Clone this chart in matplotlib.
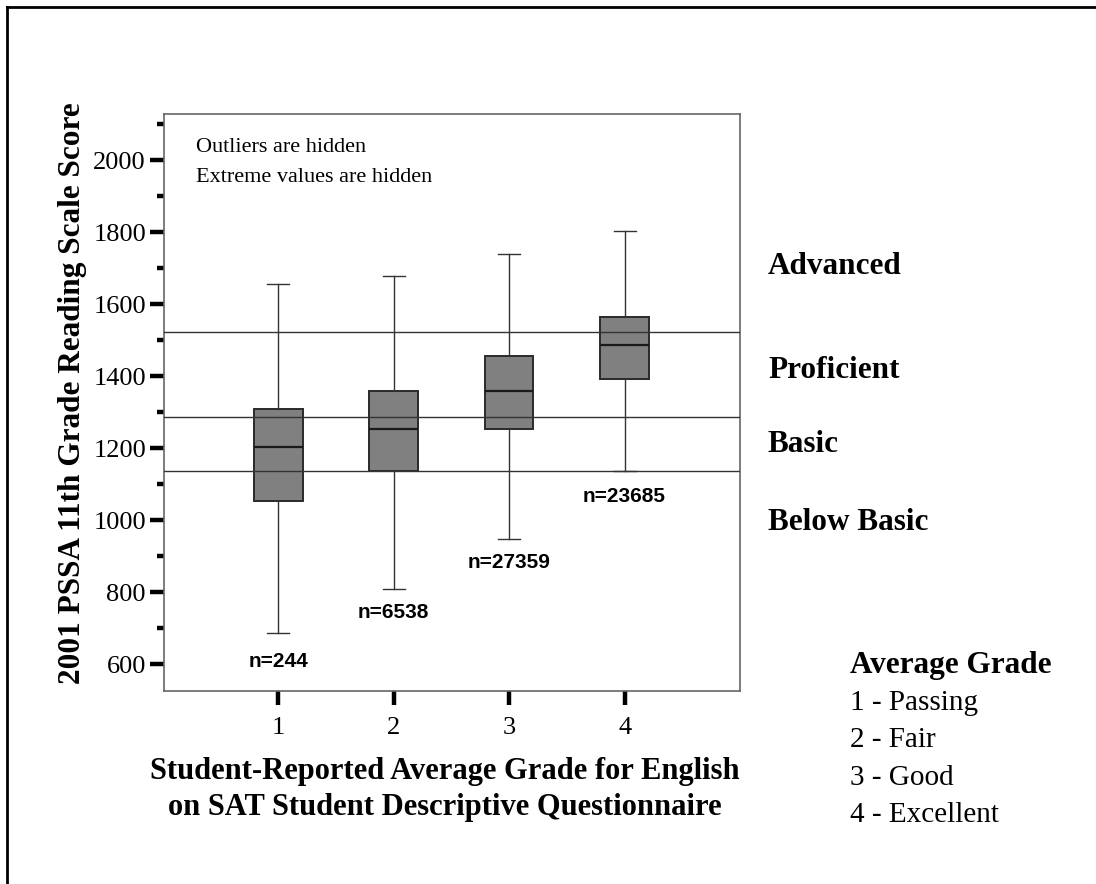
#!/usr/bin/env python3
# -*- coding: utf-8 -*-
"""PSSA 11th grade reading scale score by self-reported English grade (box plot)."""
import matplotlib
matplotlib.use("Agg")
import matplotlib.pyplot as plt
from matplotlib.lines import Line2D
from matplotlib.ticker import MultipleLocator

# ----- data -----
grades = [1, 2, 3, 4]
whisker_lo = [685, 807, 947, 1137]
q1 = [1054, 1137, 1253, 1392]
median = [1204, 1253, 1358, 1487]
q3 = [1309, 1358, 1455, 1565]
whisker_hi = [1655, 1677, 1738, 1804]
n_counts = [244, 6538, 27359, 23685]
n_label_y = [608, 742, 883, 1064]

# performance level cut scores
cut_scores = [1137, 1287, 1521]
level_names = ["Advanced", "Proficient", "Basic", "Below Basic"]
legend_items = ["1 - Passing", "2 - Fair", "3 - Good", "4 - Excellent"]

SERIF = ["Liberation Serif", "DejaVu Serif"]
SANS = ["Liberation Sans", "DejaVu Sans"]

plt.rcParams["font.family"] = SERIF

W, H = 1096, 884
fig = plt.figure(figsize=(W / 100, H / 100), dpi=100)
ax = fig.add_axes([164 / W, 1 - 691 / H, (740 - 164) / W, (691 - 114) / H])

stats = []
for i in range(len(grades)):
    stats.append({
        "whislo": whisker_lo[i], "q1": q1[i], "med": median[i],
        "q3": q3[i], "whishi": whisker_hi[i], "fliers": [],
    })

ax.bxp(stats, positions=grades, widths=0.42, capwidths=0.19,
       showfliers=False, patch_artist=True,
       boxprops=dict(facecolor="#808080", edgecolor="#2a2a2a", linewidth=1.4),
       medianprops=dict(color="#1a1a1a", linewidth=1.6),
       whiskerprops=dict(color="#333333", linewidth=1.0),
       capprops=dict(color="#333333", linewidth=1.0))

for c in cut_scores:
    ax.axhline(c, color="#333333", linewidth=1.0, zorder=5)

for g, n, y in zip(grades, n_counts, n_label_y):
    ax.text(g, y, "n=%d" % n, ha="center", va="center", fontsize=15,
            fontweight="bold", family=SANS)

ax.text(196 / W, 1 - 148 / H, "Outliers are hidden", transform=fig.transFigure,
        ha="left", va="center", fontsize=16)
ax.text(196 / W, 1 - 177 / H, "Extreme values are hidden", transform=fig.transFigure,
        ha="left", va="center", fontsize=16)

ax.set_xlim(0.01, 5.0)
ax.set_ylim(525, 2128)
ax.set_xticks(grades)
ax.yaxis.set_major_locator(MultipleLocator(200))
ax.yaxis.set_minor_locator(MultipleLocator(100))
ax.set_yticks(range(600, 2001, 200))

for s in ax.spines.values():
    s.set_color("#666666")
    s.set_linewidth(1.2)

ax.tick_params(axis="y", which="major", length=10, width=3.2, color="black",
               direction="out", pad=3, labelsize=19)
ax.tick_params(axis="y", which="minor", length=5, width=3.2, color="black",
               direction="out")
ax.tick_params(axis="x", which="major", length=10, width=3.2, color="black",
               direction="out", pad=9, labelsize=19)

# y axis title
fig.text(73 / W, 1 - 393 / H, "2001 PSSA 11th Grade Reading Scale Score",
         rotation=90, ha="center", va="center", fontsize=22.5, fontweight="bold")

# x axis title (two lines)
fig.text(445 / W, 1 - 772 / H, "Student-Reported Average Grade for English",
         ha="center", va="center", fontsize=22, fontweight="bold")
fig.text(445 / W, 1 - 808 / H, "on SAT Student Descriptive Questionnaire",
         ha="center", va="center", fontsize=22, fontweight="bold")

# performance level names on the right
level_y = [267, 370, 445, 523]
for name, y in zip(level_names, level_y):
    fig.text(768 / W, 1 - y / H, name, ha="left", va="center",
             fontsize=22.5, fontweight="bold")

# grade key
fig.text(850 / W, 1 - 665 / H, "Average Grade", ha="left", va="center",
         fontsize=22.5, fontweight="bold")
item_y = [703, 740, 778, 815]
for item, y in zip(legend_items, item_y):
    fig.text(850 / W, 1 - y / H, item, ha="left", va="center", fontsize=21)

# frame along the top and left edges
fig.add_artist(Line2D([7 / W, 1], [1 - 7 / H, 1 - 7 / H], transform=fig.transFigure,
                      color="black", linewidth=2))
fig.add_artist(Line2D([7 / W, 7 / W], [0, 1 - 7 / H], transform=fig.transFigure,
                      color="black", linewidth=2))

fig.savefig("out.png", dpi=100)
